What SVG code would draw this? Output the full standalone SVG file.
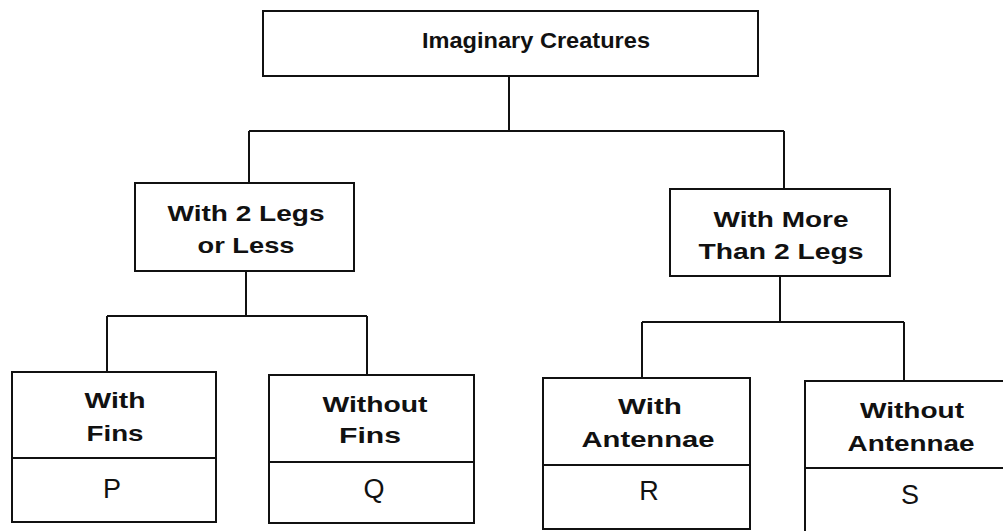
<svg xmlns="http://www.w3.org/2000/svg" width="1003" height="531" viewBox="0 0 1003 531">
<style>
.box{fill:#fff;stroke:#111;stroke-width:2}
.ln{fill:none;stroke:#111;stroke-width:2}
.b{font-family:"Liberation Sans",Arial,sans-serif;font-weight:bold;font-size:22px;fill:#111;text-anchor:middle}
.r{font-family:"Liberation Sans",Arial,sans-serif;font-size:27px;fill:#111;text-anchor:middle}
</style>
<rect width="1003" height="531" fill="#fff"/>
<g id="connectors">
<path class="ln" d="M509 76V131M249 131H784M249 131V183M784 131V189"/>
<path class="ln" d="M246 271V316M107 316H367M107 316V372M367 316V375"/>
<path class="ln" d="M780 276V322M642 322H904M642 322V378M904 322V381"/>
</g>
<g id="root">
<rect class="box" x="263" y="11" width="495" height="65"/>
<text class="b" x="536" y="48" textLength="228" lengthAdjust="spacingAndGlyphs">Imaginary Creatures</text>
</g>
<g id="legs2less">
<rect class="box" x="135" y="183" width="219" height="88"/>
<text class="b" x="246" y="221" textLength="157" lengthAdjust="spacingAndGlyphs">With 2 Legs</text>
<text class="b" x="246" y="253" textLength="97" lengthAdjust="spacingAndGlyphs">or Less</text>
</g>
<g id="legsmore">
<rect class="box" x="670" y="189" width="220" height="87"/>
<text class="b" x="781" y="227" textLength="135" lengthAdjust="spacingAndGlyphs">With More</text>
<text class="b" x="781" y="259" textLength="165" lengthAdjust="spacingAndGlyphs">Than 2 Legs</text>
</g>
<g id="P">
<rect class="box" x="12" y="372" width="204" height="150"/>
<path class="ln" d="M12 458H216"/>
<text class="b" x="115" y="408" textLength="61" lengthAdjust="spacingAndGlyphs">With</text>
<text class="b" x="115" y="441" textLength="57" lengthAdjust="spacingAndGlyphs">Fins</text>
<text class="r" x="112" y="498">P</text>
</g>
<g id="Q">
<rect class="box" x="269" y="375" width="205" height="148"/>
<path class="ln" d="M269 462H474"/>
<text class="b" x="375" y="412" textLength="105" lengthAdjust="spacingAndGlyphs">Without</text>
<text class="b" x="370" y="443" textLength="62" lengthAdjust="spacingAndGlyphs">Fins</text>
<text class="r" x="374" y="498">Q</text>
</g>
<g id="R">
<rect class="box" x="543" y="378" width="207" height="151"/>
<path class="ln" d="M543 465H750"/>
<text class="b" x="650" y="414" textLength="64" lengthAdjust="spacingAndGlyphs">With</text>
<text class="b" x="648" y="447" textLength="133" lengthAdjust="spacingAndGlyphs">Antennae</text>
<text class="r" x="649" y="500">R</text>
</g>
<g id="S">
<rect class="box" x="805" y="381" width="205" height="160"/>
<path class="ln" d="M805 468H1010"/>
<text class="b" x="912" y="418" textLength="104" lengthAdjust="spacingAndGlyphs">Without</text>
<text class="b" x="911" y="451" textLength="127" lengthAdjust="spacingAndGlyphs">Antennae</text>
<text class="r" x="910" y="504">S</text>
</g>
</svg>
